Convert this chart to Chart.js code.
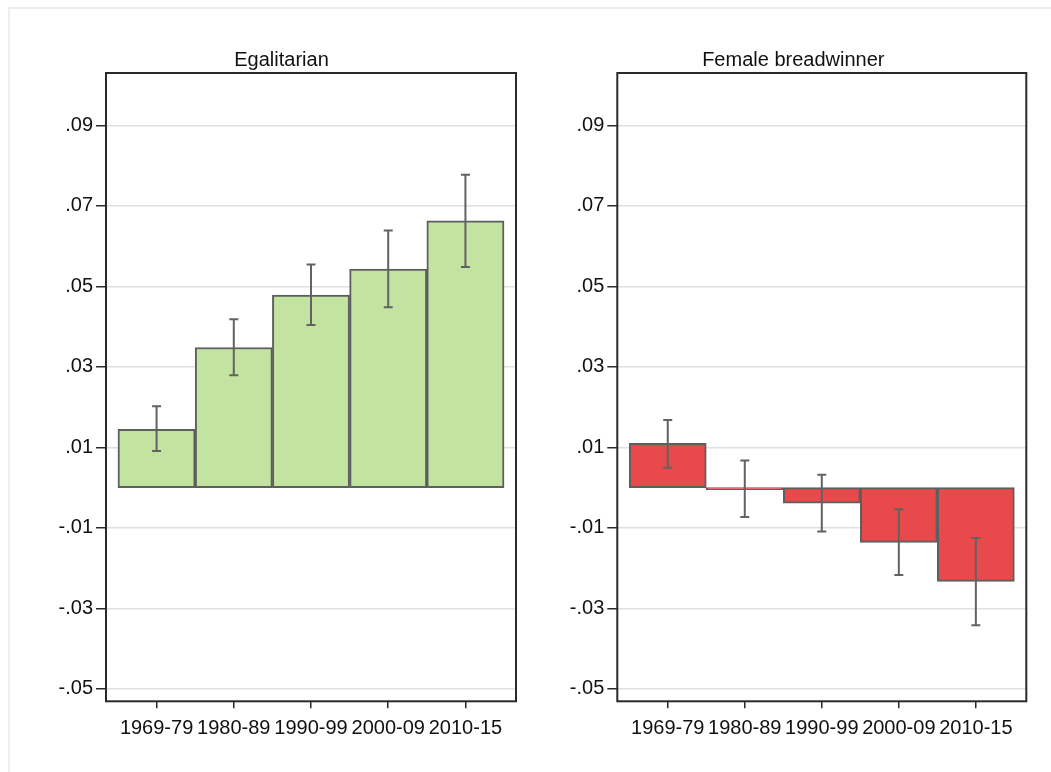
<!DOCTYPE html>
<html>
<head>
<meta charset="utf-8">
<script src="https://cdn.jsdelivr.net/npm/chart.js@4"></script>
<style>
  body { margin: 0; background: #fff; }
  #frame { position: absolute; left: 8px; top: 7px; width: 1100px; height: 820px; border: 2px solid #e9f0f2; box-sizing: border-box; }
  canvas { position: absolute; top: 0; }
</style>
</head>
<body>
<div id="frame"></div>
<canvas id="leftChart" width="540" height="772" style="left:0px"></canvas>
<canvas id="rightChart" width="511" height="772" style="left:540px"></canvas>
<script>
// data
var periods = ['1969-79', '1980-89', '1990-99', '2000-09', '2010-15'];
var egalitarian   = [0.0145, 0.0348, 0.0478, 0.0543, 0.0663];
var egalitarianLo = [0.0091, 0.0279, 0.0404, 0.0448, 0.0548];
var egalitarianHi = [0.0202, 0.0418, 0.0554, 0.0639, 0.0777];
var breadwinner   = [0.0110, -0.0005, -0.0039, -0.0136, -0.0233];
var breadwinnerLo = [0.0049, -0.0073, -0.0109, -0.0217, -0.0342];
var breadwinnerHi = [0.0168, 0.0067, 0.0032, -0.0054, -0.0125];
var yTicks = [-0.05, -0.03, -0.01, 0.01, 0.03, 0.05, 0.07, 0.09];
var yTickLabels = ['-.05', '-.03', '-.01', '.01', '.03', '.05', '.07', '.09'];
var yMin = -0.0531, yMax = 0.1030;
var xMin = -0.655, xMax = 4.655;

var FONT = '"Liberation Sans", Arial, sans-serif';

// error bars with small caps
var errorBars = {
    id: 'errbars',
    afterDatasetsDraw: function(chart, args, opts) {
        var ctx = chart.ctx, xs = chart.scales.x, ys = chart.scales.y;
        ctx.save();
        ctx.strokeStyle = '#626262';
        ctx.lineWidth = 2;
        for (var i = 0; i < opts.lo.length; i++) {
            var x = xs.getPixelForValue(i);
            var y1 = ys.getPixelForValue(opts.lo[i]);
            var y2 = ys.getPixelForValue(opts.hi[i]);
            ctx.beginPath();
            ctx.moveTo(x, y1); ctx.lineTo(x, y2);
            ctx.moveTo(x - 4.5, y1); ctx.lineTo(x + 4.5, y1);
            ctx.moveTo(x - 4.5, y2); ctx.lineTo(x + 4.5, y2);
            ctx.stroke();
        }
        ctx.restore();
    }
};

// box round the plot region
var plotFrame = {
    id: 'plotframe',
    afterDraw: function(chart) {
        var a = chart.chartArea, ctx = chart.ctx;
        ctx.save();
        ctx.strokeStyle = '#2a2a2a';
        ctx.lineWidth = 2;
        ctx.strokeRect(a.left, a.top, a.right - a.left, a.bottom - a.top);
        ctx.restore();
    }
};

function makePanel(id, title, values, lo, hi, fill, pad, yWidth) {
    var points = values.map(function(v, i) { return { x: i, y: v }; });
    return new Chart(document.getElementById(id).getContext('2d'), {
        type: 'bar',
        data: {
            datasets: [{
                data: points,
                backgroundColor: fill,
                borderColor: '#5e5e5e',
                borderWidth: 2,
                borderSkipped: false,
                barPercentage: 1,
                categoryPercentage: 1
            }]
        },
        options: {
            responsive: false,
            animation: false,
            devicePixelRatio: 1,
            layout: { padding: pad },
            plugins: {
                legend: { display: false },
                tooltip: { enabled: false },
                title: {
                    display: true,
                    text: title,
                    color: '#111',
                    font: { family: FONT, size: 20, weight: 'normal', lineHeight: 1.2 },
                    padding: { top: 48, bottom: 1 }
                },
                errbars: { lo: lo, hi: hi }
            },
            scales: {
                x: {
                    type: 'linear',
                    min: xMin,
                    max: xMax,
                    offset: false,
                    afterBuildTicks: function(s) { s.ticks = periods.map(function(p, i) { return { value: i }; }); },
                    afterFit: function(s) { s.height = 60; },
                    border: { display: false },
                    grid: { offset: false, drawOnChartArea: false, tickColor: '#2a2a2a', tickLength: 7, lineWidth: 1.5 },
                    ticks: {
                        autoSkip: false, maxRotation: 0, padding: 8, color: '#111',
                        font: { family: FONT, size: 20 },
                        callback: function(v) { return periods[v]; }
                    }
                },
                y: {
                    min: yMin,
                    max: yMax,
                    afterBuildTicks: function(s) { s.ticks = yTicks.map(function(v) { return { value: v }; }); },
                    afterFit: function(s) { s.width = yWidth; },
                    border: { display: false },
                    grid: { color: '#e0e0e0', lineWidth: 1.5, tickColor: '#2a2a2a', tickLength: 10 },
                    ticks: {
                        padding: 3, color: '#111',
                        font: { family: FONT, size: 20 },
                        callback: function(v, i) { return yTickLabels[i]; }
                    }
                }
            }
        },
        plugins: [errorBars, plotFrame]
    });
}

makePanel('leftChart', 'Egalitarian', egalitarian, egalitarianLo, egalitarianHi,
    '#c3e4a0', { left: 47, right: 24, top: 0, bottom: 10.7 }, 59);
makePanel('rightChart', 'Female breadwinner', breadwinner, breadwinnerLo, breadwinnerHi,
    '#e8494b', { left: 20.3, right: 24.7, top: 0, bottom: 10.7 }, 57);
</script>
</body>
</html>
